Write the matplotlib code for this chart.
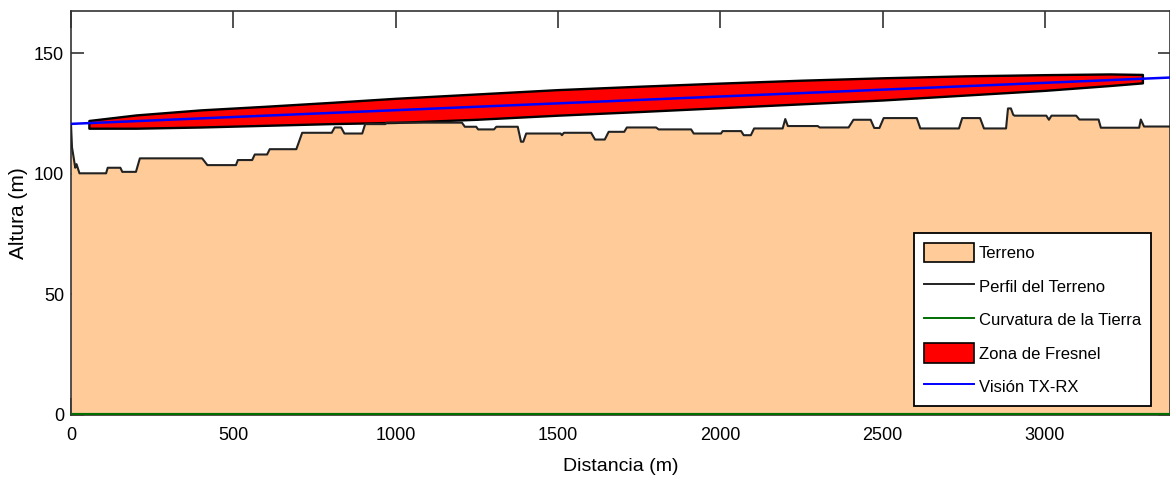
import numpy as np
import matplotlib
matplotlib.use('Agg')
import matplotlib.pyplot as plt
from matplotlib.patches import Patch
from matplotlib.lines import Line2D

plt.rcParams['font.family'] = ['Liberation Sans', 'DejaVu Sans']

# terrain profile (distance m, height m)
terr_d = [0, 3, 9, 13, 17, 26, 108, 113, 152, 158, 200, 212, 404, 420, 508, 514, 558,
          566, 604, 612, 694, 712, 803, 812, 832, 842, 897, 906, 968, 972, 1204, 1213,
          1248, 1254, 1303, 1310, 1376, 1386, 1393, 1402, 1508, 1512, 1518, 1602, 1614,
          1644, 1656, 1704, 1712, 1802, 1810, 1910, 1918, 2002, 2007, 2064, 2072, 2094,
          2104, 2192, 2200, 2208, 2300, 2306, 2395, 2410, 2463, 2474, 2490, 2503, 2605,
          2616, 2735, 2745, 2800, 2812, 2880, 2886, 2895, 2902, 2906, 3004, 3012, 3020,
          3096, 3106, 3165, 3172, 3290, 3295, 3305, 3385]
terr_h = [120.5, 111, 106, 102.5, 104, 100.2, 100.2, 102.5, 102.5, 100.8, 100.8, 106.4,
          106.4, 103.6, 103.6, 105.7, 105.7, 108, 108, 110.2, 110.2, 117, 117, 119.2,
          119.2, 116.7, 116.7, 120.6, 120.6, 121.2, 121.2, 119.5, 119.5, 118.4, 118.4,
          119.5, 119.5, 113.3, 113.3, 116.7, 116.7, 116.0, 117, 117, 114.2, 114.2, 117.4,
          117.4, 119.2, 119.2, 118.4, 118.4, 116.7, 116.7, 117.7, 117.7, 116, 116, 118.8,
          118.8, 122.7, 119.8, 119.8, 119.2, 119.2, 122.4, 122.4, 119.0, 119.0, 123.1,
          123.1, 118.8, 118.8, 123.1, 123.1, 118.8, 118.8, 127.1, 127.1, 124.5, 124.1,
          124.1, 122.4, 124.1, 124.1, 122.5, 122.5, 119.1, 119.1, 122.5, 119.6, 119.6]

# first Fresnel zone edges
fres_d = [55, 200, 400, 600, 800, 1000, 1250, 1500, 1750, 2000, 2250, 2500, 2750, 3000, 3200, 3300]
fres_top = [122.1, 124.4, 126.5, 128.0, 129.6, 131.3, 133.1, 134.9, 136.3, 137.6, 138.8,
            139.8, 140.6, 141.1, 141.4, 141.2]
fres_bot = [118.9, 118.9, 119.4, 120.1, 120.8, 121.3, 122.6, 124.3, 125.8, 127.4, 129.0,
            130.6, 132.6, 134.6, 136.6, 137.7]

# line of sight TX-RX and earth curvature
los_d = [0, 3385]
los_h = [120.7, 139.9]
curv_d = [0, 3385]
curv_h = [0, 0]

xticks = [0, 500, 1000, 1500, 2000, 2500, 3000]
yticks = [0, 50, 100, 150]

fig = plt.figure(figsize=(11.7, 4.84), dpi=100)
ax = fig.add_axes([0.0607, 0.1426, 0.9393, 0.8347])

terr_col = '#FFCC99'
ax.fill_between(terr_d, 0, terr_h, color=terr_col, lw=0, zorder=1)
ax.fill_between(fres_d, fres_bot, fres_top, facecolor='#FF0000', edgecolor='black',
                lw=1.7, zorder=2)
ax.plot(terr_d, terr_h, color='#222222', lw=1.5, zorder=3)
ax.plot(los_d, los_h, color='#0000FF', lw=1.8, zorder=4)
ax.plot(curv_d, curv_h, color='#006E00', lw=3, zorder=4)

ax.set_xlim(0, 3385)
ax.set_ylim(0, 167.5)
ax.set_xticks(xticks)
ax.set_yticks(yticks)
ax.set_axisbelow(True)
ax.tick_params(direction='in', top=True, right=True, labelsize=13, width=1.2, colors='#333333',
               labelcolor='black')
ax.tick_params(axis='x', length=12, pad=9)
ax.tick_params(axis='y', length=9, pad=5)
for s in ax.spines.values():
    s.set_color('#333333')
    s.set_linewidth(1.2)

ax.set_xlabel('Distancia (m)', fontsize=14, labelpad=10)
ax.set_ylabel('Altura (m)', fontsize=15, labelpad=4)

handles = [Patch(facecolor=terr_col, edgecolor='black', lw=1.2),
           Line2D([], [], color='#222222', lw=1.4),
           Line2D([], [], color='#006E00', lw=1.4),
           Patch(facecolor='#FF0000', edgecolor='black', lw=1.2),
           Line2D([], [], color='#0000FF', lw=1.4)]
labels = ['Terreno', 'Perfil del Terreno', 'Curvatura de la Tierra', 'Zona de Fresnel',
          'Visión TX-RX']
leg = ax.legend(handles, labels, loc='lower right', bbox_to_anchor=(0.983, 0.022),
                fontsize=12, fancybox=False, framealpha=1, edgecolor='black',
                handlelength=3.0, handleheight=1.4, handletextpad=0.3,
                labelspacing=0.85, borderpad=0.6, borderaxespad=0)
leg.get_frame().set_linewidth(1.3)

fig.savefig('out.png', dpi=100)
